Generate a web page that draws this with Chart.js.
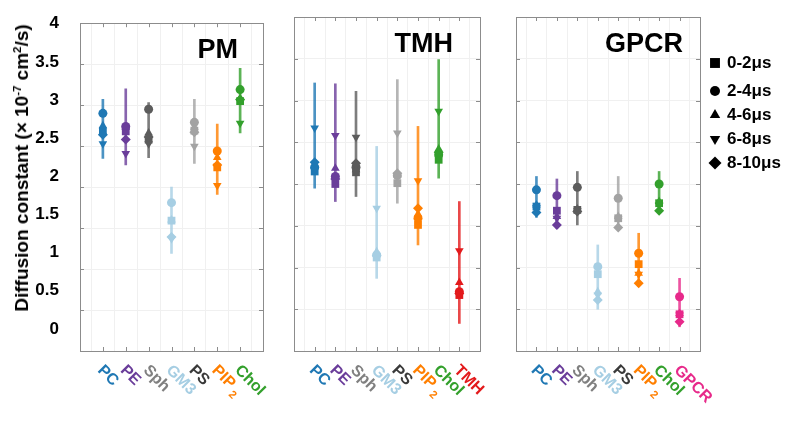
<!DOCTYPE html>
<html lang="en">
<head>
<meta charset="UTF-8">
<title>Diffusion constants</title>
<script src="https://cdn.jsdelivr.net/npm/chart.js"></script>
<style>
    body {
        margin: 0;
        background: #fff;
        font-family: "Liberation Sans", Arial, sans-serif;
    }
    #wrap {
        position: relative;
        width: 800px;
        height: 429px;
        overflow: hidden;
    }
    canvas {
        position: absolute;
        top: 0;
    }
    #ytitle {
        position: absolute;
        left: 22px;
        top: 168px;
        transform: translate(-50%, -50%) rotate(-90deg);
        white-space: nowrap;
        font-weight: bold;
        font-size: 19px;
        color: #000;
    }
    #ytitle sup {
        font-size: 0.6em;
        line-height: 0;
        vertical-align: 0.6em;
    }
</style>
</head>
<body>
<div id="wrap">
    <canvas id="pm" width="290" height="429" style="left:0px"></canvas>
    <canvas id="tmh" width="216" height="429" style="left:284px"></canvas>
    <canvas id="gpcr" width="295" height="429" style="left:505px"></canvas>
    <div id="ytitle">Diffusion constant (× 10<sup>-7</sup> cm<sup>2</sup>/s)</div>
</div>

<script>
// time windows (one marker shape each)
const windows = ['0-2μs', '2-4μs', '4-6μs', '6-8μs', '8-10μs'];
const yTicks = [0, 0.5, 1, 1.5, 2, 2.5, 3, 3.5, 4];

// PM panel
const pmCats = ['PC', 'PE', 'Sph', 'GM3', 'PS', 'PIP₂', 'Chol'];
const pm0_2  = [2.68, 2.68, 2.58, 1.59, 2.69, 2.24, 3.05];
const pm2_4  = [2.90, 2.74, 2.95, 1.81, 2.79, 2.44, 3.19];
const pm4_6  = [2.75, 2.73, 2.66, 1.60, 2.73, 2.36, 3.08];
const pm6_8  = [2.53, 2.41, 2.53, 1.37, 2.50, 2.02, 2.78];
const pm8_10 = [2.64, 2.58, 2.61, 1.39, 2.67, 2.27, 3.07];
const pmLow  = [2.35, 2.27, 2.36, 1.19, 2.29, 1.91, 2.66];
const pmHigh = [3.07, 3.20, 3.03, 2.00, 3.07, 2.77, 3.45];

// TMH panel
const tmhCats = ['PC', 'PE', 'Sph', 'GM3', 'PS', 'PIP₂', 'Chol', 'TMH'];
const tmh0_2  = [2.15, 2.00, 2.14, 1.12, 2.01, 1.51, 2.29, 0.67];
const tmh2_4  = [2.20, 2.09, 2.20, 1.15, 2.10, 1.59, 2.35, 0.71];
const tmh4_6  = [2.21, 2.19, 2.17, 1.19, 2.11, 1.64, 2.42, 0.82];
const tmh6_8  = [2.67, 2.58, 2.56, 1.71, 2.61, 2.04, 2.87, 1.20];
const tmh8_10 = [2.26, 2.06, 2.25, 1.14, 2.13, 1.71, 2.38, 0.69];
const tmhLow  = [1.95, 1.79, 1.85, 0.87, 1.77, 1.27, 2.07, 0.33];
const tmhHigh = [3.21, 3.20, 3.11, 2.45, 3.25, 2.69, 3.49, 1.79];

// GPCR panel
const gpcrCats = ['PC', 'PE', 'Sph', 'GM3', 'PS', 'PIP₂', 'Chol', 'GPCR'];
const gpcr0_2  = [1.73, 1.68, 1.69, 0.92, 1.59, 1.04, 1.77, 0.44];
const gpcr2_4  = [1.93, 1.86, 1.96, 1.01, 1.83, 1.17, 2.00, 0.65];
const gpcr4_6  = [1.75, 1.61, 1.70, 0.71, 1.61, 0.93, 1.79, 0.45];
const gpcr6_8  = [1.72, 1.59, 1.68, 0.67, 1.58, 0.92, 1.75, 0.43];
const gpcr8_10 = [1.66, 1.51, 1.67, 0.61, 1.48, 0.81, 1.68, 0.35];
const gpcrLow  = [1.60, 1.47, 1.51, 0.50, 1.45, 0.77, 1.65, 0.29];
const gpcrHigh = [2.09, 2.06, 2.15, 1.27, 2.09, 1.41, 2.15, 0.87];

// colours
const markColor = {
    'PC': '#1f78b4', 'PE': '#6a3d9a', 'Sph': '#5c5c5c', 'GM3': '#a6cee3',
    'PS': '#a3a3a3', 'PIP₂': '#ff7f00', 'Chol': '#33a02c', 'TMH': '#e31a1c', 'GPCR': '#e7298a'
};
const labelColor = Object.assign({}, markColor, { 'Sph': '#808080', 'PS': '#3a3a3a' });

const FONT = '"Liberation Sans", Arial, sans-serif';
const shapes = [
    { pointStyle: 'rect', rotation: 0, radius: 5.5 },
    { pointStyle: 'circle', rotation: 0, radius: 4.5 },
    { pointStyle: 'triangle', rotation: 0, radius: 5 },
    { pointStyle: 'triangle', rotation: 180, radius: 5 },
    { pointStyle: 'rectRot', rotation: 0, radius: 5 }
];

function alpha(hex, a) {
    const n = parseInt(hex.slice(1), 16);
    return 'rgba(' + (n >> 16) + ',' + ((n >> 8) & 255) + ',' + (n & 255) + ',' + a + ')';
}

// box + inward ticks like matlab
const framePlugin = {
    id: 'frame',
    beforeDatasetsDraw(chart) {
        const ctx = chart.ctx, a = chart.chartArea;
        const xs = chart.scales.x, ys = chart.scales.y;
        ctx.save();
        ctx.strokeStyle = '#8c8c8c';
        ctx.lineWidth = 1;
        ctx.beginPath();
        for (let i = 1; i < xs.max; i++) {
            const px = Math.round(xs.getPixelForValue(i)) + 0.5;
            ctx.moveTo(px, a.top); ctx.lineTo(px, a.top + 4);
            ctx.moveTo(px, a.bottom); ctx.lineTo(px, a.bottom - 4);
        }
        yTicks.forEach(v => {
            const py = Math.round(ys.getPixelForValue(v)) + 0.5;
            ctx.moveTo(a.left, py); ctx.lineTo(a.left + 4, py);
            ctx.moveTo(a.right, py); ctx.lineTo(a.right - 4, py);
        });
        ctx.stroke();
        ctx.strokeRect(Math.round(a.left) + 0.5, Math.round(a.top) + 0.5,
            Math.round(a.right - a.left), Math.round(a.bottom - a.top));
        ctx.restore();
    }
};

// rotated coloured category names + panel name
const textPlugin = {
    id: 'texts',
    afterDraw(chart, args, opts) {
        const ctx = chart.ctx, a = chart.chartArea, xs = chart.scales.x;
        ctx.save();
        opts.cats.forEach((c, i) => {
            const px = xs.getPixelForValue(i + 1);
            ctx.save();
            ctx.translate(px - 6, a.bottom + 20);
            ctx.rotate(Math.PI / 4);
            ctx.fillStyle = labelColor[c];
            ctx.font = 'bold 16px ' + FONT;
            ctx.textAlign = 'left';
            ctx.textBaseline = 'alphabetic';
            if (c.endsWith('₂')) {
                const base = c.slice(0, -1);
                ctx.fillText(base, 0, 0);
                const w = ctx.measureText(base).width;
                ctx.font = 'bold 11px ' + FONT;
                ctx.fillText('2', w + 3, 5);
            } else {
                ctx.fillText(c, 0, 0);
            }
            ctx.restore();
        });
        ctx.fillStyle = '#000';
        ctx.font = 'bold 27px ' + FONT;
        ctx.textAlign = 'right';
        ctx.textBaseline = 'alphabetic';
        ctx.fillText(opts.title, a.right - opts.titleRight, a.top + 35);
        ctx.restore();
    }
};

// legend of the time windows, to the right of the last panel
const legendPlugin = {
    id: 'winLegend',
    afterDraw(chart) {
        const ctx = chart.ctx;
        const rows = [63, 91, 115, 139, 163];
        const sizes = [7, 5, 6, 6, 6.5];
        ctx.save();
        windows.forEach((w, i) => {
            ctx.fillStyle = '#000';
            ctx.strokeStyle = '#000';
            ctx.lineWidth = 0;
            Chart.helpers.drawPoint(ctx, {
                pointStyle: shapes[i].pointStyle,
                rotation: shapes[i].rotation,
                radius: sizes[i],
                borderWidth: 0
            }, 210, rows[i]);
            ctx.font = 'bold 17px ' + FONT;
            ctx.textBaseline = 'middle';
            ctx.textAlign = 'left';
            ctx.fillText(w, 222, rows[i]);
        });
        ctx.restore();
    }
};

function makePanel(id, cats, series, low, high, cfg) {
    const colors = cats.map(c => markColor[c]);
    const datasets = series.map((vals, k) => ({
        type: 'scatter',
        label: windows[k],
        data: vals.map((v, i) => ({ x: i + 1, y: v })),
        backgroundColor: colors,
        borderColor: colors,
        borderWidth: 0,
        pointStyle: shapes[k].pointStyle,
        rotation: shapes[k].rotation,
        pointRadius: shapes[k].radius,
        order: 5 - k
    }));
    datasets.push({
        type: 'bar',
        label: 'range',
        data: low.map((v, i) => ({ x: i + 1, y: [v, high[i]] })),
        backgroundColor: colors.map(c => alpha(c, 0.8)),
        barThickness: 2,
        order: 10
    });

    const scales = {
        x: {
            type: 'linear', min: 0, max: cats.length + 1, offset: false,
            afterBuildTicks: s => { s.ticks = cats.map((c, i) => ({ value: i + 1 })); },
            ticks: { display: false },
            grid: { color: '#f0f0f0', drawTicks: false },
            border: { display: false }
        },
        y: {
            type: 'linear', min: 0, max: 4,
            afterBuildTicks: s => { s.ticks = yTicks.map(v => ({ value: v })); },
            ticks: { display: false },
            grid: { color: '#f0f0f0', drawTicks: false },
            border: { display: false }
        }
    };
    if (cfg.yLabels) {
        // tick labels sit on their own slightly shifted scale, as in the figure
        scales.yl = {
            type: 'linear', position: 'left', min: -0.289, max: 4.006,
            afterBuildTicks: s => { s.ticks = yTicks.map(v => ({ value: v })); },
            afterFit: s => { s.width = cfg.padLeft; },
            ticks: {
                padding: 13, color: '#000',
                font: { family: FONT, size: 17, weight: 'bold' },
                callback: v => String(v)
            },
            grid: { display: false },
            border: { display: false }
        };
    }

    return new Chart(document.getElementById(id), {
        type: 'scatter',
        data: { datasets },
        options: {
            responsive: false,
            animation: false,
            layout: { padding: { left: cfg.yLabels ? 0 : cfg.padLeft, right: cfg.padRight, top: 17, bottom: 78 } },
            scales,
            plugins: {
                legend: { display: false },
                tooltip: { enabled: false },
                texts: { cats, title: cfg.title, titleRight: cfg.titleRight }
            }
        },
        plugins: cfg.legend ? [framePlugin, textPlugin, legendPlugin] : [framePlugin, textPlugin]
    });
}

makePanel('pm', pmCats, [pm0_2, pm2_4, pm4_6, pm6_8, pm8_10], pmLow, pmHigh,
    { yLabels: true, padLeft: 80, padRight: 27, title: 'PM', titleRight: 25 });
makePanel('tmh', tmhCats, [tmh0_2, tmh2_4, tmh4_6, tmh6_8, tmh8_10], tmhLow, tmhHigh,
    { padLeft: 10, padRight: 20, title: 'TMH', titleRight: 27 });
makePanel('gpcr', gpcrCats, [gpcr0_2, gpcr2_4, gpcr4_6, gpcr6_8, gpcr8_10], gpcrLow, gpcrHigh,
    { padLeft: 11, padRight: 100, title: 'GPCR', titleRight: 17, legend: true });
</script>
</body>
</html>
